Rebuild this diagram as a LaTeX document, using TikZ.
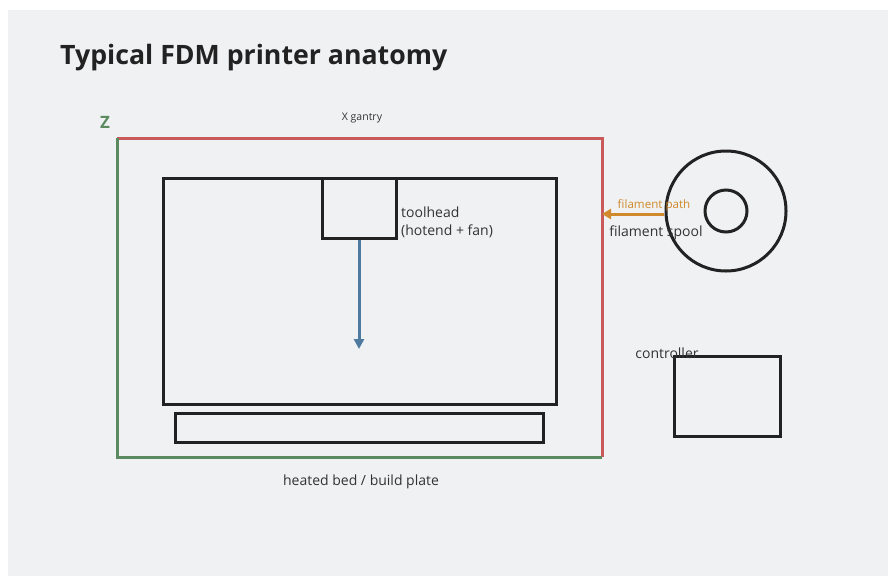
\documentclass[tikz,border=0pt]{standalone}
\usepackage{fontspec}
\setmainfont{Open Sans}
\usetikzlibrary{arrows.meta}
\definecolor{bg}{HTML}{F0F1F3}
\definecolor{ink}{HTML}{222222}
\definecolor{txt}{HTML}{333333}
\definecolor{gantry}{HTML}{C85A5A}
\definecolor{zaxis}{HTML}{5A8A5E}
\definecolor{move}{HTML}{4F7AA0}
\definecolor{fil}{HTML}{D08A2C}
\tikzset{
  part/.style={draw=ink, line width=3pt, fill=none},
  lbl/.style={text=txt, font=\fontsize{14}{18}\selectfont, inner sep=0pt},
}
\begin{document}
\begin{tikzpicture}[x=1pt,y=-1pt]
\useasboundingbox (0,0) rectangle (888,576);
\fill[bg] (8,10) rectangle (888,576);
% title
\node[anchor=base west, inner sep=0pt, text=ink, font=\bfseries\fontsize{26.7}{30}\selectfont] (title) at (60,64) {Typical FDM printer anatomy};
% frame axes
\coordinate (tl) at (117,138);
\coordinate (tr) at (602,138);
\coordinate (br) at (602,457);
\coordinate (bl) at (117,457);
\draw[gantry, line width=3pt] (tl) -- (tr) -- (br);
\draw[zaxis, line width=3pt] (tl) -- (bl) -- (br);
\node[text=zaxis, font=\bfseries\fontsize{17}{19}\selectfont, inner sep=0pt] (z) at (105,122) {Z};
\node[text=txt, font=\fontsize{10.5}{12}\selectfont, inner sep=0pt] (xg) at (362,118) {X gantry};
% build volume
\node[part, minimum width=393pt, minimum height=226pt, inner sep=0pt] (vol) at (359.5,291) {};
% toolhead
\node[part, minimum width=74pt, minimum height=60pt, inner sep=0pt] (tool) at (359,208) {};
\node[lbl, anchor=north west, align=left] (toollbl) at (401,207) {toolhead\\(hotend + fan)};
\coordinate (zdown) at (359,349);
\draw[move, line width=3pt, -{Triangle[width=10pt,length=10pt]}] (tool.south) -- (zdown);
% bed
\node[part, minimum width=368pt, minimum height=29pt, inner sep=0pt] (bed) at (359,427.5) {};
\node[lbl] (bedlbl) at (361,481.5) {heated bed / build plate};
% spool
\node[part, circle, minimum size=120pt, inner sep=0pt] (spool) at (726,211) {};
\node[part, circle, minimum size=42pt, inner sep=0pt] (hub) at (726,211) {};
\coordinate (filstart) at (664,214);
\coordinate (filend) at (602,214);
\draw[fil, line width=3pt, -{Triangle[width=10pt,length=9pt]}] (filstart) -- (filend);
\node[text=fil, font=\fontsize{11.6}{13}\selectfont, inner sep=0pt] (fillbl) at (654,205) {filament path};
\node[lbl] (spoollbl) at (656,232.5) {filament spool};
% controller
\node[part, minimum width=106pt, minimum height=80pt, inner sep=0pt] (ctrl) at (727,396) {};
\node[lbl] (ctrllbl) at (667,353) {controller};
\end{tikzpicture}
\end{document}
